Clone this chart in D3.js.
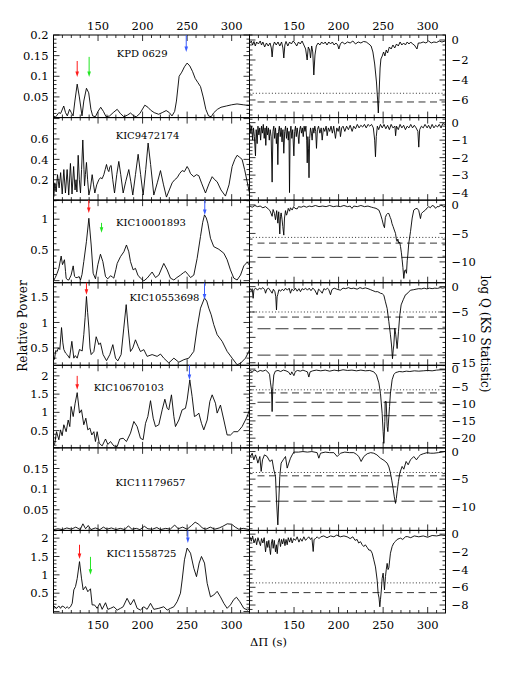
<!DOCTYPE html>
<html><head><meta charset="utf-8">
<script src="https://cdn.jsdelivr.net/npm/d3@7"></script>
<style>
body{margin:0;background:#fff}
svg{display:block}
text{font-family:"DejaVu Serif",serif;fill:#000}
</style>
</head><body>
<svg id="chart" width="512" height="682"></svg>
<script>
// ---------------- data ----------------
const xDomain = [100, 320];
const xTickLabels = [150, 200, 250, 300];
const starNames = ["KPD 0629","KIC9472174","KIC10001893","KIC10553698","KIC10670103","KIC11179657","KIC11558725"];

const powerDomains = [[0,0.2],[0,0.81],[-0.034,1.31],[0.16,1.78],[0.027,2.29],[0,0.2],[-0.04,2.21]];
const powerTickLabels = [[0.05,0.1,0.15,0.2],[0.2,0.4,0.6],[0.5,1],[0.5,1,1.5],[0.5,1,1.5,2],[0.05,0.1,0.15],[0.5,1,1.5,2]];
const powerTickSteps = [[0.05,0.01],[0.2,0.05],[0.5,0.1],[0.5,0.1],[0.5,0.1],[0.05,0.01],[0.5,0.1]];

const logQDomains = [[-7.76,0.5],[-4.43,0.29],[-13.65,0.84],[-15.5,0.77],[-22.8,1.1],[-14.3,0.67],[-8.9,0.42]];
const logQTickLabels = [[0,-2,-4,-6],[0,-1,-2,-3,-4],[0,-5,-10],[0,-5,-10,-15],[0,-5,-10,-15,-20],[0,-5,-10],[0,-2,-4,-6,-8]];
const logQTickSteps = [[2,0.5],[1,0.2],[5,1],[5,1],[5,1],[5,1],[2,0.5]];

const levelDotted = [-5.33,null,-5.7,-5.0,-6.0,-3.8,-5.5];
const levelDashed = [-6.2,null,-6.7,-6.0,-6.9,-4.4,-6.6];
const levelLongDashed = [[],[],[-9.2],[-8.3,-13.5],[-9.6,-13.5],[-6.4,-9.0],[]];

// arrows: [panel, period, colour, top value, tip value]
const arrowMarks = [
 [0,126.6,"red",0.137,0.098],[0,140,"green",0.147,0.098],[0,249,"blue",0.2,0.159],
 [2,139.6,"red",1.31,1.10],[2,153.9,"green",0.94,0.78],[2,269.8,"blue",1.31,1.07],
 [3,137,"red",1.78,1.545],[3,269.5,"blue",1.78,1.45],
 [4,126.6,"red",2.0,1.62],[4,252.6,"blue",2.29,1.89],
 [6,129.2,"red",1.82,1.43],[6,141.5,"green",1.49,1.0],[6,250.8,"blue",2.21,1.87]
];
// name label anchor in data units [period, power]
const namePos = [[199.5,0.147],[205.5,0.595],[209.4,0.89],[224.6,1.42],[184.5,1.59],[208.9,0.108],[198.8,1.475]];

const powerKPD0629 = [[100.5,0.004],[102,0.001],[104,0.006],[106,0.012],[108,0.01],[111.5,0.028],[113.5,0.012],[115.5,0.004],[118,0.02],[120,0.012],[122,0.004],[124,0.04],[126.6,0.081],[129,0.05],[132,0.004],[134,0.04],[137,0.071],[139.5,0.06],[142,0.02],[144,0.004],[147,0.002],[150,0.015],[153,0.025],[156,0.015],[159,0.002],[163,0.004],[167,0.012],[171.5,0.02],[175,0.01],[179,0.002],[183,0.006],[186.5,0.011],[190,0.004],[193,0.002],[197,0.01],[202.5,0.03],[206,0.025],[209,0.018],[213,0.012],[218,0.008],[222,0.012],[226.5,0.017],[230,0.012],[233,0.004],[236,0.015],[238,0.04],[241,0.1],[244,0.11],[247,0.123],[250,0.132],[253,0.125],[256,0.112],[259,0.095],[262,0.085],[265,0.075],[268,0.05],[271,0.02],[274,0.004],[277,0.002],[280,0.012],[284,0.02],[288,0.025],[294,0.028],[300,0.031],[306,0.033],[313,0.031],[320,0.029]];

const powerKIC9472174 = [[100.3,0.03],[101.5,0.17],[103,0.08],[104.5,0.25],[106.3,0.12],[108,0.27],[109.8,0.06],[111.6,0.3],[113.4,0.07],[115.3,0.3],[117.1,0.05],[119,0.36],[120.8,0.06],[122.6,0.33],[124.2,0.1],[125.3,0.2],[126.3,0.08],[127.7,0.44],[129,0.2],[130.3,0.07],[131.5,0.3],[132.9,0.59],[134.2,0.3],[134.8,0.14],[135.8,0.25],[137,0.37],[138.3,0.2],[139.7,0.05],[141.5,0.12],[143.4,0.25],[145,0.15],[146.4,0.07],[148.5,0.15],[150.9,0.2],[152.7,0.22],[154.6,0.21],[156.5,0.25],[158,0.3],[159.5,0.35],[160.8,0.3],[162.1,0.28],[163.4,0.33],[164.7,0.34],[166.5,0.2],[168.5,0.07],[171,0.25],[173.3,0.38],[175.5,0.25],[178.2,0.07],[181,0.18],[184.5,0.3],[186.8,0.18],[189,0.05],[192,0.25],[195,0.45],[197.8,0.25],[200.6,0.05],[203.5,0.3],[206.2,0.56],[209,0.35],[212.6,0.05],[216.5,0.17],[220.1,0.29],[223.5,0.15],[226.8,0.03],[230,0.1],[233.2,0.17],[236,0.2],[238.8,0.22],[241.5,0.26],[244.4,0.29],[247,0.28],[250,0.33],[252,0.3],[253.8,0.26],[257.5,0.23],[260.5,0.25],[263.1,0.24],[266.5,0.16],[270.6,0.07],[274.5,0.16],[278.1,0.23],[281,0.2],[283.7,0.18],[288,0.1],[293,0.04],[297,0.15],[300.5,0.33],[303.5,0.4],[306.1,0.44],[309,0.42],[311.7,0.4],[314.5,0.3],[317.4,0.18],[320,0.07]];

const powerKIC10001893 = [[100.5,0.01],[102,0.05],[104.1,0.12],[106,0.2],[108.6,0.4],[110.1,0.26],[112.3,0.34],[113.5,0.15],[114.2,0.04],[116,0.01],[117.2,0.01],[119.8,0.09],[122.1,0.24],[123.6,0.07],[125,0.05],[126.6,0.05],[128.8,0.065],[130.3,0.01],[132,0.1],[134,0.31],[137,0.64],[139.7,1.015],[142.3,0.58],[144.5,0.12],[147.1,0.03],[149.8,0.26],[152.7,0.43],[155.4,0.31],[158.4,0.065],[161,0.03],[164,0.08],[166,0.06],[167.7,0.04],[170,0.18],[171.5,0.28],[175.2,0.39],[179,0.47],[181.9,0.58],[184.5,0.47],[186.4,0.31],[189.4,0.175],[192,0.2],[194.7,0.09],[197.6,0.04],[201.4,-0.005],[205.1,0.04],[210.7,0.14],[214.5,0.05],[218.2,0.09],[223.8,0.28],[227.6,0.175],[231.3,0.04],[235.1,0.01],[238.5,0.05],[242.5,0.09],[246,0.13],[248.1,0.15],[251,0.1],[253.8,0.05],[257.5,0.09],[261.2,0.36],[265,0.72],[267.5,0.95],[269.5,1.07],[271.5,1.02],[273.2,0.935],[276.2,0.69],[279.9,0.553],[285.6,0.51],[291.2,0.446],[294.9,0.34],[298.6,0.175],[302.4,0.04],[306.1,0.01],[309.9,0.09],[313.6,0.24],[317.4,0.3],[320,0.25]];

const powerKIC10553698 = [[101,0.27],[102.5,0.45],[104.1,0.43],[105.5,0.5],[107.1,0.47],[109,0.9],[110.5,0.6],[111.6,0.47],[113.5,0.4],[115.3,0.37],[118,0.3],[120.6,0.63],[122.8,0.3],[124.5,0.35],[126.6,0.3],[129.2,0.47],[132.2,0.44],[134,0.76],[135.5,1.1],[137,1.51],[138.3,1.2],[139.7,0.89],[141,0.5],[142.3,0.37],[145.3,0.43],[147.9,0.72],[150.9,0.565],[152.7,0.6],[155.7,0.37],[159.5,0.25],[163.2,0.37],[166.6,0.565],[169.6,0.3],[172.2,0.246],[175.9,0.37],[178.9,0.89],[181.6,1.35],[183.8,0.89],[186.4,0.43],[189,0.5],[192,0.66],[195,0.53],[197.6,0.43],[201.4,0.467],[205.1,0.335],[210.7,0.37],[216.3,0.335],[220.1,0.38],[223.8,0.3],[229.4,0.206],[235.1,0.3],[240.7,0.22],[246.3,0.27],[251.9,0.3],[257.5,0.433],[261.2,0.89],[265,1.28],[269.5,1.48],[272,1.42],[274.3,1.28],[277,1.15],[279.9,0.957],[283.7,0.76],[289.3,0.63],[294.9,0.433],[300.5,0.3],[306.1,0.17],[309.9,0.2],[315.5,0.3],[319.2,0.433],[320,0.46]];

const powerKIC10670103 = [[100.5,0.1],[101.5,0.156],[103.4,0.47],[106,0.25],[107.9,0.52],[109.7,0.36],[111.6,0.66],[114.2,0.47],[116.5,0.79],[118.3,0.61],[119.8,1.16],[122.1,0.885],[124.3,1.25],[126.6,1.54],[129.2,0.98],[131.4,1.07],[134,0.66],[136.3,0.84],[138.5,0.52],[140.8,0.57],[143,0.38],[145.3,0.47],[147.1,0.2],[149,0.47],[151.3,0.156],[154.6,0.08],[158.4,0.27],[161,0.12],[164,0.2],[167.7,0.08],[171.5,0.063],[174.4,0.27],[178.2,0.29],[181.9,0.2],[186.4,0.43],[190.2,0.75],[193.9,0.61],[197.6,0.29],[200.6,0.25],[203.3,0.7],[205.9,0.885],[208.9,1.32],[211.9,0.84],[214.5,0.61],[218.2,0.66],[222,1.07],[225,1.36],[227.6,1.11],[229.4,1.07],[232.4,1.48],[235.1,0.885],[236.9,0.61],[240.7,0.79],[244.4,1.07],[248.1,1.11],[250,1.34],[253,1.89],[255.6,1.43],[258.2,0.885],[261.2,0.93],[263.1,0.98],[266.1,0.7],[268.7,0.52],[272.5,0.79],[275.5,1.3],[278.1,1.48],[281.8,1.25],[283.7,0.98],[287.4,1.2],[291.2,0.79],[294.9,0.38],[298.7,0.38],[302.4,0.47],[306.9,0.47],[311.7,0.61],[317.4,0.885],[320,1.07]];

const powerKIC11179657 = [[100,0.002],[105,0.004],[110,0.002],[115,0.006],[120,0.003],[125,0.008],[130,0.002],[133,0.016],[136,0.004],[139,0.012],[142,0.002],[147,0.006],[152,0.002],[156,0.008],[160,0.003],[165,0.006],[170,0.002],[175,0.005],[180,0.002],[184,0.011],[188,0.003],[193,0.005],[197,0.002],[202,0.01],[206,0.004],[211,0.003],[216,0.007],[220,0.002],[226,0.005],[231,0.003],[236,0.013],[240,0.004],[245,0.008],[250,0.003],[255,0.012],[259,0.02],[263,0.015],[267,0.006],[271,0.003],[276,0.008],[281,0.003],[286,0.006],[290,0.01],[295,0.016],[300,0.015],[304,0.008],[308,0.003],[313,0.005],[320,0.002]];

const powerKIC11558725 = [[100.5,0.15],[103.4,0.087],[106,0.15],[107.9,0.087],[109.7,0.15],[111.6,0.13],[113.5,0.087],[115.3,0.13],[117.2,0.087],[119.1,0.13],[121,0.224],[122.8,0.59],[124.7,0.68],[126.6,0.9],[129.2,1.36],[131.4,0.91],[133.3,0.59],[136,0.68],[138.5,0.54],[141.5,0.62],[143.4,0.18],[146,0.18],[149,0.087],[152,0.224],[154.6,0.06],[158.4,0.24],[161,0.06],[164,0.087],[167.7,0.13],[171.5,0.04],[175.2,0.087],[178.2,0.13],[182.6,0.36],[186.4,0.18],[190.2,0.33],[193.9,0.087],[197.6,0.04],[201.4,0.13],[205.1,0.06],[208.9,0.224],[212.6,0.06],[218.2,0.087],[223.8,0.13],[227.6,0.04],[231.3,0.087],[235.1,0.13],[238.8,0.27],[242.5,0.5],[244.4,0.86],[247,1.41],[250,1.73],[253.8,1.59],[257.5,1.18],[260.5,0.95],[263.5,1.32],[266.1,1.5],[269.5,1.32],[272.5,0.77],[276.2,0.4],[279.9,0.45],[283.7,0.55],[287.4,0.4],[291.2,0.224],[294.9,0.087],[298.6,0.18],[302.4,0.33],[305.4,0.39],[309.1,0.27],[313.6,0.087],[318,0.04],[320,0.087]];

const logQKPD0629 = [[100.5,-0.3],[102,-0.1],[103.5,-0.5],[105,-0.15],[106.5,-0.6],[108,-0.2],[110,-0.4],[112,-0.1],[113.5,-0.5],[115,-0.2],[117,-0.7],[119,-0.3],[121,-0.6],[123,-0.3],[124.5,-0.8],[125.4,-1.7],[126.5,-0.6],[128,-0.2],[130,-0.5],[132,-0.2],[134,-0.6],[136,-0.2],[137.5,-0.8],[138.5,-1.8],[139.7,-0.5],[141,-0.15],[143,-0.6],[145,-0.2],[147,-0.4],[149,-0.1],[151,-0.3],[153,-0.6],[155,-0.2],[157,-0.4],[159,-0.1],[161,-0.5],[163,-0.9],[164.7,-2.0],[166,-0.7],[167.5,-1.0],[168.5,-1.8],[169.8,-0.6],[171,-1.2],[172.2,-3.5],[173.5,-1.5],[175,-0.6],[177,-0.3],[179,-0.5],[181,-0.2],[183,-0.4],[185,-0.2],[187,-0.5],[189,-0.2],[191,-0.4],[193,-0.2],[195,-0.5],[197,-0.3],[199,-0.5],[200.3,-0.9],[202,-0.4],[204,-0.2],[207,-0.4],[210,-0.2],[213,-0.3],[216,-0.1],[219,-0.4],[222,-0.2],[225,-0.3],[228,-0.15],[231,-0.2],[234,-0.4],[236.5,-0.6],[238.5,-1.2],[240.5,-2.4],[242.5,-4.2],[243.8,-6.0],[244.6,-7.3],[245.6,-5.0],[246.6,-2.8],[247.5,-1.9],[249,-1.6],[250.5,-1.2],[252,-1.6],[253.5,-1.0],[255,-1.3],[257,-0.7],[259,-0.9],[261,-0.5],[263,-0.8],[265,-0.4],[267,-0.6],[269,-0.2],[271,-0.5],[273,-0.3],[275,-0.5],[277,-0.2],[279,-0.4],[281,-0.2],[283,-0.4],[285,-0.5],[288,-0.9],[289.5,-0.3],[292,-0.3],[295,-0.2],[298,-0.3],[301,-0.1],[304,-0.3],[307,-0.2],[310,-0.25],[313,-0.1],[316,-0.2],[319.5,-0.1]];

const logQKIC9472174 = [[100.5,-0.1],[101.5,-0.6],[102.5,-0.2],[103.5,-1.0],[104.5,-0.3],[105.5,-0.8],[106.7,-1.9],[107.5,-0.4],[108.6,-1.2],[109.5,-0.2],[110.5,-0.7],[111.5,-0.3],[112.5,-1.0],[113.5,-0.2],[114.5,-0.6],[115.5,-0.1],[116.5,-0.9],[117.5,-0.3],[118.3,-1.3],[119.2,-0.2],[120.2,-0.7],[121.2,-0.3],[122.2,-1.0],[123.2,-0.4],[124.3,-0.8],[125.4,-3.4],[126.3,-0.5],[127.3,-0.2],[128.2,-0.9],[129.2,-0.3],[130.2,-1.2],[131.1,-0.6],[131.8,-2.4],[132.6,-0.5],[133.5,-0.2],[134.5,-0.8],[135.5,-0.3],[136.5,-1.1],[137.5,-0.4],[138.5,-1.75],[139.5,-0.5],[140.5,-0.2],[141.5,-0.9],[142.5,-0.3],[143.5,-1.0],[144.3,-0.5],[144.9,-4.0],[145.6,-0.6],[146.5,-0.2],[147.5,-0.9],[148.5,-0.4],[149.8,-1.9],[150.7,-0.5],[151.6,-0.2],[152.5,-0.8],[153.5,-0.3],[154.5,-0.7],[155.4,-1.2],[156.3,-0.4],[157.3,-0.2],[158.3,-0.6],[159.3,-0.3],[160.3,-0.8],[161.3,-0.2],[162.3,-0.5],[163.3,-0.2],[164.2,-1.0],[164.8,-2.3],[165.5,-0.8],[166.2,-1.5],[166.8,-3.15],[167.5,-0.9],[168.5,-0.3],[169.5,-0.6],[170.3,-1.0],[171.3,-0.3],[172.3,-0.6],[173.3,-0.2],[174.3,-0.5],[175.2,-1.47],[176.2,-0.4],[177.5,-0.2],[179,-0.6],[180.5,-0.3],[181.6,-1.0],[183,-0.3],[184.5,-0.5],[186,-0.2],[187.2,-0.75],[188.5,-0.3],[190,-0.5],[191.5,-0.2],[193,-0.6],[194.5,-0.2],[196.5,-0.9],[198,-0.3],[199.5,-0.5],[201,-0.2],[202.1,-0.8],[203.5,-0.3],[205,-0.2],[207,-0.5],[209,-0.2],[211,-0.4],[213,-0.15],[215.2,-0.5],[217,-0.2],[219,-0.35],[221,-0.1],[223,-0.3],[225,-0.15],[227,-0.25],[229,-0.1],[231,-0.3],[233,-0.1],[235,-0.2],[237,-0.1],[239,-0.3],[240.5,-1.0],[241.4,-1.95],[242.3,-0.8],[243.5,-0.2],[245,-0.4],[247,-0.1],[249,-0.3],[251,-0.1],[253,-0.35],[255,-0.15],[257,-0.4],[259,-0.1],[261,-0.3],[263.2,-0.2],[264,-0.75],[265,-0.2],[267,-0.4],[269,-0.1],[271,-0.3],[273,-0.15],[275,-0.4],[277,-0.2],[279,-0.3],[281,-0.1],[283,-0.3],[285,-0.15],[287,-0.3],[289,-0.5],[290,-1.4],[291,-0.4],[293,-0.2],[295,-0.3],[297,-0.1],[299.4,-0.3],[301,-0.15],[303,-0.35],[305,-0.1],[307,-0.3],[309,-0.15],[311,-0.25],[313,-0.1],[315,-0.3],[317,-0.05],[319.5,-0.1]];

const logQKIC10001893 = [[100.5,-0.2],[103,-0.4],[106,-0.1],[109,-0.3],[112,-0.2],[115,-0.5],[118,-0.3],[121,-0.7],[123,-1.0],[125.4,-2.0],[126.5,-0.8],[128,-1.5],[129.2,-2.6],[130.5,-1.0],[131.8,-3.2],[132.8,-1.2],[134,-5.1],[134.8,-2.0],[135.5,-1.4],[136.5,-2.5],[137.4,-3.8],[138.5,-5.3],[139.3,-2.3],[140.4,-1.0],[141.5,-1.8],[142.3,-1.5],[143.5,-0.6],[145,-1.1],[146,-0.5],[147.9,-0.9],[149.5,-0.3],[151,-0.6],[153.5,-0.7],[155,-0.3],[158,-0.4],[161,-0.2],[164,-0.4],[167,-0.2],[170,-0.3],[174,-0.1],[178,-0.3],[182,-0.2],[186,-0.3],[190,-0.1],[194,-0.3],[198,-0.2],[202,-0.3],[206,-0.1],[210,-0.3],[213,-0.2],[215,-0.6],[217,-0.2],[221,-0.3],[225,-0.1],[229,-0.3],[233,-0.2],[237,-0.4],[239.5,-0.5],[242,-0.6],[245.2,-0.9],[247,-1.6],[248.9,-2.6],[250.3,-3.5],[251.5,-4.0],[252.5,-2.2],[253.8,-1.7],[255,-1.5],[256.4,-1.5],[258,-2.2],[259,-2.6],[260,-3.3],[261.2,-3.8],[262.5,-4.4],[263.9,-5.0],[265,-6.2],[265.7,-6.4],[266.5,-6.0],[267.6,-6.7],[268.5,-6.5],[269.5,-7.3],[270.5,-8.4],[271.3,-9.6],[272.2,-11.0],[273.2,-12.9],[274.2,-11.5],[275.1,-11.4],[276.2,-12.0],[277,-9.8],[277.7,-8.8],[278.8,-6.7],[280.7,-4.7],[282.6,-2.3],[284.4,-0.9],[286,-0.7],[288.2,-0.6],[290,-1.0],[291.9,-2.4],[293,-1.5],[294.9,-1.2],[297.5,-0.9],[299.5,-0.5],[301.3,-0.3],[303,-0.5],[305,-0.1],[307,-0.2],[308.8,-0.6],[310.5,-0.3],[312.5,-0.3],[314.5,-0.1],[316.2,-0.05],[318,-0.4],[319.5,-0.2]];

const logQKIC10553698 = [[100.5,-0.3],[102,-0.8],[103,-0.4],[104.1,-2.3],[105,-0.6],[107,-0.3],[109,-0.7],[111,-0.3],[113,-0.5],[115,-0.2],[117,-0.6],[118,-1.3],[119.5,-0.5],[121.5,-0.3],[123.5,-0.8],[125.4,-1.3],[126.8,-0.5],[128.5,-1.0],[129.5,-2.0],[130.3,-4.6],[131,-2.0],[131.8,-1.5],[133,-0.6],[135,-0.9],[136.7,-0.5],[138.5,-0.8],[140.5,-0.3],[142.5,-0.7],[144.5,-0.3],[146,-1.3],[147.5,-0.5],[149.5,-0.8],[151.5,-0.3],[153.5,-0.9],[155.5,-0.4],[157.2,-1.0],[159,-0.4],[161,-0.6],[163,-0.3],[165,-0.7],[167,-0.3],[169,-0.8],[171,-0.3],[173,-0.6],[175.9,-1.6],[177.5,-0.5],[179.5,-0.8],[181.6,-1.3],[183.5,-0.4],[185.5,-0.6],[187.5,-0.3],[189,-0.6],[190.9,-1.6],[192.5,-0.6],[195,-0.3],[198,-0.5],[202,-0.7],[205,-0.3],[208,-0.4],[211,-0.2],[214,-0.4],[217,-0.3],[220.8,-0.5],[224,-0.2],[227,-0.4],[230,-0.25],[233,-0.4],[235.8,-0.6],[238.5,-0.8],[241.4,-1.0],[244,-1.0],[247,-1.3],[249,-1.4],[250.8,-1.7],[252.6,-3.0],[254.5,-4.3],[256.4,-6.9],[258.2,-9.5],[259.4,-11.5],[260.5,-14.2],[261.3,-12.5],[262,-11.5],[263.1,-8.2],[264.2,-9.5],[265.7,-12.2],[266.5,-10.5],[267.2,-8.9],[268.7,-5.6],[270.2,-3.6],[272.5,-2.6],[275.1,-1.6],[277,-1.4],[278.8,-1.0],[281,-0.7],[284.4,-0.6],[287,-0.5],[290,-0.4],[293,-0.45],[296,-0.3],[299,-0.45],[302,-0.3],[305,-0.4],[308,-0.3],[311,-0.35],[314,-0.2],[317,-0.3],[319.5,-0.2]];

const logQKIC10670103 = [[100.5,-0.4],[103,-0.7],[106,-0.3],[109,-0.8],[112,-0.4],[115,-0.6],[118,-0.3],[120.5,-0.8],[122.5,-1.5],[123.6,-4.0],[124.7,-6.0],[125.4,-12.3],[126.2,-5.0],[127.3,-1.7],[129,-0.6],[132,-0.4],[135,-0.7],[138,-0.3],[141,-0.5],[144,-0.9],[146,-1.7],[147.5,-0.8],[149.8,-1.9],[151.5,-0.7],[154,-0.4],[157,-0.6],[160,-0.3],[163,-0.6],[165,-0.8],[166.6,-2.3],[168,-0.8],[171,-0.5],[175,-0.3],[180,-0.5],[185,-0.3],[190,-0.6],[195,-0.3],[200,-0.5],[205,-0.2],[210,-0.4],[215,-0.3],[220,-0.5],[225,-0.3],[230,-0.5],[235,-0.4],[239.5,-0.8],[242.5,-1.7],[245.2,-4.0],[247,-7.0],[248.9,-12.8],[250,-18.1],[250.8,-21.5],[251.9,-15.2],[252.3,-9.4],[253.4,-9.4],[254.5,-16.6],[255.3,-18.1],[256.4,-13.7],[257.2,-10.8],[258.2,-7.0],[260.1,-3.1],[262,-1.6],[264,-1.0],[265.7,-0.9],[268,-0.7],[272,-0.8],[276,-0.6],[280,-0.7],[285,-0.5],[290,-0.6],[295,-0.5],[300,-0.4],[305,-0.5],[310,-0.3],[315,-0.2],[319.5,-0.2]];

const logQKIC11179657 = [[100.5,-0.6],[101.1,-0.9],[103,-0.3],[104.9,-1.5],[106.7,-0.6],[108,-1.2],[109.4,-2.1],[111.6,-0.9],[113.1,-3.6],[114.6,-1.5],[116.8,-0.6],[119.8,-0.9],[122.8,-1.8],[125.4,-1.5],[127.3,-3.3],[129.2,-4.5],[130.3,-8.8],[131.8,-13.3],[132.9,-8.8],[134,-4.5],[135.5,-2.1],[137.8,-1.5],[140.4,-0.9],[142.3,-3.0],[144.1,-2.1],[146,-1.2],[147.9,-0.6],[149.8,-0.1],[155,-0.1],[160,0],[165,-0.1],[170,0],[175.9,-0.2],[177.8,-1.2],[179.7,-0.3],[185,-0.1],[190,-0.2],[194.7,-0.2],[198.4,-0.9],[202.1,-0.3],[207,-0.1],[212,-0.2],[217.1,-0.2],[220,-0.5],[222.7,-0.9],[225.3,-1.8],[228.3,-0.9],[232.1,-0.4],[236,-0.2],[239.5,-0.3],[243,-0.6],[247,-1.2],[251,-1.6],[254.5,-2.1],[256.5,-2.8],[258.2,-3.9],[259.8,-5.3],[261.2,-6.7],[262.5,-8.2],[263.9,-9.4],[264.8,-8.5],[265.7,-7.3],[267.2,-5.4],[268.7,-3.9],[271.3,-2.7],[273.2,-3.2],[275.8,-1.8],[278.1,-2.4],[280.7,-1.5],[284.4,-0.9],[287.4,-1.5],[290,-0.9],[291.9,-0.6],[295,-0.4],[299.4,-0.2],[303,-0.3],[306.9,-0.3],[312,-0.2],[316,-0.1],[319.5,0]];

const logQKIC11558725 = [[100.5,-0.3],[102,-0.8],[103.5,-0.2],[105,-1.0],[106.7,-0.5],[108,-1.2],[109.5,-0.4],[111,-0.9],[112.3,-1.3],[113.5,-0.5],[115,-1.0],[116.5,-0.4],[118,-2.0],[119.5,-0.8],[120.5,-1.5],[121.7,-0.7],[122.6,-1.6],[123.6,-2.3],[124.6,-1.0],[125.6,-0.6],[126.6,-1.6],[127.8,-0.7],[129.2,-2.0],[130.2,-1.2],[131.1,-2.2],[132.3,-0.9],[133.5,-0.5],[134.8,-1.4],[136,-0.6],[137.2,-1.1],[138.5,-0.5],[139.8,-1.3],[141,-0.6],[142.3,-1.2],[143.5,-0.4],[145,-0.9],[146.5,-0.4],[147.9,-1.0],[149.5,-0.5],[151.6,-0.7],[153.5,-0.3],[155.5,-0.9],[157.2,-0.5],[159,-0.8],[161,-0.3],[162.9,-0.7],[164.7,-0.5],[166.5,-0.3],[168.5,-0.6],[170,-0.4],[171.5,-1.96],[172.5,-0.6],[174.1,-0.5],[176,-0.3],[178,-0.5],[180,-0.3],[183.4,-0.2],[187,-0.4],[191,-0.2],[194.7,-0.3],[198,-0.1],[202,-0.3],[206,-0.2],[209.6,-0.3],[213,-0.5],[216,-0.3],[218.5,-0.7],[220.8,-0.6],[222.5,-1.0],[224.6,-0.85],[226.5,-1.2],[228.3,-1.4],[230,-1.2],[232.1,-1.5],[234,-1.8],[235.8,-1.8],[237.7,-2.15],[239.5,-2.9],[241.4,-3.7],[243.3,-5.2],[244.4,-6.7],[245.4,-7.2],[246.3,-8.2],[247,-7.4],[248,-6.3],[248.9,-5.0],[250,-4.4],[251.5,-6.3],[252.6,-4.8],[253.5,-4.0],[254.5,-3.3],[255.5,-4.0],[256.4,-3.8],[258.2,-2.15],[260.1,-1.4],[262,-1.0],[264,-0.8],[265.7,-0.6],[268,-0.5],[269.5,-0.45],[272,-0.6],[275,-0.3],[277,-0.27],[281,-0.4],[285,-0.2],[290,-0.3],[295,-0.2],[300,-0.35],[305,-0.15],[310,-0.2],[315,-0.1],[319.5,-0.15]];

const powerSeries = [powerKPD0629, powerKIC9472174, powerKIC10001893, powerKIC10553698, powerKIC10670103, powerKIC11179657, powerKIC11558725];
const logQSeries = [logQKPD0629, logQKIC9472174, logQKIC10001893, logQKIC10553698, logQKIC10670103, logQKIC11179657, logQKIC11558725];

// ---------------- layout ----------------
const L0 = 53.5, MID = 249.5, R1 = 445.5, TOP = 35, BOT = 613;
const rowH = (BOT - TOP) / 7;
const MAJ = 6, MIN = 3;
const arrowColors = {red:"#ff1a1a", green:"#22e622", blue:"#3a5cff"};

const svg = d3.select("#chart");
const xL = d3.scaleLinear().domain(xDomain).range([L0, MID]);
const xR = d3.scaleLinear().domain(xDomain).range([MID, R1]);

function tickVals(domain, step){
  const a = Math.ceil(domain[0]/step - 1e-6), b = Math.floor(domain[1]/step + 1e-6);
  return d3.range(a, b + 1).map(k => +(k*step).toFixed(6));
}
const fmtMinus = v => (v < 0 ? "\u2212" + Math.abs(v) : String(v));

function drawFrame(g, xs, ys, y0, y1, steps){
  const x0 = xs.range()[0], x1 = xs.range()[1];
  const t = g.append("g").attr("stroke","#000").attr("stroke-width",0.8);
  tickVals(xDomain, 10).forEach(v => {
    const len = (Math.abs(v % 50) < 1e-6) ? MAJ : MIN;
    const px = xs(v);
    t.append("line").attr("x1",px).attr("x2",px).attr("y1",y1).attr("y2",y1-len);
    t.append("line").attr("x1",px).attr("x2",px).attr("y1",y0).attr("y2",y0+len);
  });
  const majors = tickVals(ys.domain(), steps[0]);
  tickVals(ys.domain(), steps[1]).forEach(v => {
    const isMaj = majors.some(m => Math.abs(m - v) < 1e-6);
    const len = isMaj ? MAJ : MIN;
    const py = ys(v);
    t.append("line").attr("x1",x0).attr("x2",x0+len).attr("y1",py).attr("y2",py);
    t.append("line").attr("x1",x1).attr("x2",x1-len).attr("y1",py).attr("y2",py);
  });
  g.append("rect").attr("x",x0).attr("y",y0).attr("width",x1-x0).attr("height",y1-y0)
    .attr("fill","none").attr("stroke","#000").attr("stroke-width",1);
}

for (let i = 0; i < 7; i++){
  const y0 = TOP + i*rowH, y1 = y0 + rowH;
  const yL = d3.scaleLinear().domain(powerDomains[i]).range([y1, y0]);
  const yR = d3.scaleLinear().domain(logQDomains[i]).range([y1, y0]);

  svg.append("clipPath").attr("id","cl"+i).append("rect").attr("x",L0).attr("y",y0).attr("width",MID-L0).attr("height",rowH);
  svg.append("clipPath").attr("id","cr"+i).append("rect").attr("x",MID).attr("y",y0).attr("width",R1-MID).attr("height",rowH);

  const gl = svg.append("g");
  const gr = svg.append("g");

  gl.append("path").datum(powerSeries[i]).attr("clip-path","url(#cl"+i+")")
    .attr("fill","none").attr("stroke","#000").attr("stroke-width",0.9).attr("stroke-linejoin","round")
    .attr("d", d3.line().x(d=>xL(d[0])).y(d=>yL(d[1])));

  const lv = gr.append("g").attr("clip-path","url(#cr"+i+")").attr("stroke","#000").attr("stroke-width",0.8);
  if (levelDotted[i] !== null) lv.append("line").attr("x1",MID).attr("x2",R1).attr("y1",yR(levelDotted[i])).attr("y2",yR(levelDotted[i])).attr("stroke-dasharray","1,2.2");
  if (levelDashed[i] !== null) lv.append("line").attr("x1",MID+8).attr("x2",R1).attr("y1",yR(levelDashed[i])).attr("y2",yR(levelDashed[i])).attr("stroke-dasharray","7,4.5");
  levelLongDashed[i].forEach(v => lv.append("line").attr("x1",MID+8).attr("x2",R1).attr("y1",yR(v)).attr("y2",yR(v)).attr("stroke-dasharray","13,5"));

  gr.append("path").datum(logQSeries[i]).attr("clip-path","url(#cr"+i+")")
    .attr("fill","none").attr("stroke","#000").attr("stroke-width",0.9).attr("stroke-linejoin","round")
    .attr("d", d3.line().x(d=>xR(d[0])).y(d=>yR(d[1])));

  drawFrame(gl, xL, yL, y0, y1, powerTickSteps[i]);
  drawFrame(gr, xR, yR, y0, y1, logQTickSteps[i]);

  powerTickLabels[i].forEach(v => {
    svg.append("text").attr("x", L0 - 5).attr("y", yL(v)).attr("dy","0.36em")
      .attr("text-anchor","end").attr("font-size","11.5px").text(String(v));
  });
  logQTickLabels[i].forEach(v => {
    svg.append("text").attr("x", R1 + 6).attr("y", yR(v)).attr("dy","0.36em")
      .attr("text-anchor","start").attr("font-size","11.5px").text(fmtMinus(v));
  });

  svg.append("text").attr("x", xL(namePos[i][0])).attr("y", yL(namePos[i][1]))
    .attr("text-anchor","middle").attr("font-size","10px").text(starNames[i]);

  arrowMarks.filter(a => a[0] === i).forEach(a => {
    const px = xL(a[1]), pt = yL(a[3]), tip = yL(a[4]);
    const c = arrowColors[a[2]];
    svg.append("line").attr("x1",px).attr("x2",px).attr("y1",pt).attr("y2",tip-4)
      .attr("stroke",c).attr("stroke-width",1);
    svg.append("path").attr("d",`M${px-1.8},${tip-5.5}L${px+1.8},${tip-5.5}L${px},${tip}Z`).attr("fill",c);
  });
}

[xL, xR].forEach(xs => {
  xTickLabels.forEach(v => {
    svg.append("text").attr("x", xs(v)).attr("y", 29.5).attr("text-anchor","middle").attr("font-size","11.5px").text(v);
    svg.append("text").attr("x", xs(v)).attr("y", 628.5).attr("text-anchor","middle").attr("font-size","11.5px").text(v);
  });
});

svg.append("text").attr("x", 250).attr("y", 646).attr("font-size","11.5px").text("\u0394\u03A0  (s)");
svg.append("text").attr("transform","translate(27,326) rotate(-90)").attr("text-anchor","middle").attr("font-size","12px").text("Relative  Power");
svg.append("text").attr("transform","translate(481,334) rotate(90)").attr("text-anchor","middle").attr("font-size","12px").text("log Q  (KS Statistic)");
</script>
</body></html>
